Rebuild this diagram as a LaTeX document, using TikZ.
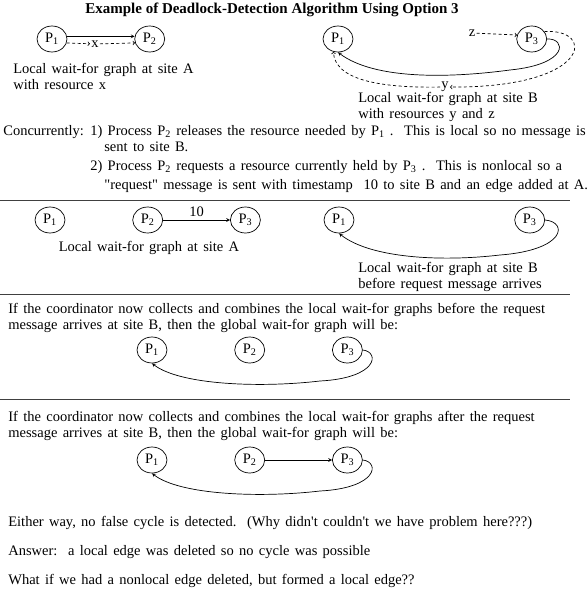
\documentclass[tikz,border=0pt]{standalone}
\usepackage{fontspec}
\setmainfont{Liberation Serif}
\usetikzlibrary{shapes.geometric,positioning}
\newcommand\widespace{\spaceskip 5.3pt plus 1pt minus 1pt\relax}

\begin{document}
\begin{tikzpicture}
    [x=1pt, y=-1pt,
    node distance=67pt,
    >=stealth,
    auto,
    line width=0.7pt,
    every node/.style={font=\fontsize{14.5}{16}\selectfont\widespace},
    proc/.style={
      ellipse,
      draw,
      minimum width=30pt,
      minimum height=26pt,
      inner sep=0pt},
    res/.style={inner sep=1pt},
    waitedge/.style={-to, dash pattern=on 3pt off 2.5pt},
    para/.style={align=left, anchor=north west, inner sep=0pt},
    rule/.style={line width=0.9pt, black!75}
    ]
    \useasboundingbox (0,0) rectangle (588,591);
    \node (title) at (272,10) [font=\fontsize{15}{18}\selectfont\bfseries] {Example of Deadlock-Detection Algorithm Using Option 3};

    % local graphs with resources
    \node (1a1) at (52,39) [proc] {P\textsubscript{1}};
    \node (1a2) [right=of 1a1] [proc] {P\textsubscript{2}};
    \node (x) at (95,44) [res] {x};
    \draw[->] (1a1.10) -- (1a2.170);
    \draw[waitedge] (1a1.-15) -- (x);
    \draw[waitedge] (x) -- (1a2.-165);
    \node (sitea) at (13,63) [para] {Local wait-for graph at site A\\with resource x};

    \node (1b1) at (338,39) [proc] {P\textsubscript{1}};
    \node (1b3) [right=163pt of 1b1] [proc] {P\textsubscript{3}};
    \node (z) at (472,33) [res] {z};
    \node (y) at (445,87) [res] {y};
    \draw[waitedge] (z) -- (1b3.165);
    \draw[->] (1b3.east) .. controls (566,38) and (570,64) .. (510,70)
      .. controls (450,78) and (375,80) .. (1b1.south);
    \draw[waitedge] (1b3.30) .. controls (596,28) and (592,88) .. (y);
    \draw[waitedge] (y) .. controls (380,88) and (335,80) .. (1b1.250);
    \node (siteb) at (358,92) [para] {Local wait-for graph at site B\\with resources y and z};

    \node (conc) at (3,125) [para] {Concurrently:};
    \node (steps) at (90,125) [para] {1) Process P\textsubscript{2} releases the resource needed by P\textsubscript{1} .\ \ This is local so no message is\\
      \hspace*{14pt}sent to site B.\\[3pt]
      2) Process P\textsubscript{2} requests a resource currently held by P\textsubscript{3} .\ \ This is nonlocal so a\\[3pt]
      \hspace*{14pt}\textquotedbl request\textquotedbl{} message is sent with timestamp\ \ 10 to site B and an edge added at A.};
    \draw[rule] (0,200) -- (570,200);

    % after the request at A
    \node (2a1) at (50,220) [proc] {P\textsubscript{1}};
    \node (2a2) [right=of 2a1] [proc] {P\textsubscript{2}};
    \node (2a3) [right=of 2a2] [proc] {P\textsubscript{3}};
    \draw[->] (2a2) -- node {10} (2a3);
    \node (2sitea) at (149,248) {Local wait-for graph at site A};

    \node (2b1) at (339,220) [proc] {P\textsubscript{1}};
    \node (2b3) [right=160pt of 2b1] [proc] {P\textsubscript{3}};
    \draw[->] (2b3.east) .. controls (568,222) and (566,250) .. (500,255)
      .. controls (440,262) and (370,258) .. (2b1.south);
    \node (2siteb) at (358,262) [para] {Local wait-for graph at site B\\before request message arrives};
    \draw[rule] (0,294) -- (570,294);

    % global graph before
    \node (3text) at (8,303) [para] {If the coordinator now collects and combines the local wait-for graphs before the request\\message arrives at site B, then the global wait-for graph will be:};
    \node (3g1) at (152,350) [proc] {P\textsubscript{1}};
    \node (3g2) [right=of 3g1] [proc] {P\textsubscript{2}};
    \node (3g3) [right=of 3g2] [proc] {P\textsubscript{3}};
    \draw[->] (3g3.east) .. controls (380,352) and (378,378) .. (320,381)
      .. controls (260,388) and (180,385) .. (3g1.south);
    \draw[rule] (0,399) -- (570,399);

    % global graph after
    \node (4text) at (8,411) [para] {If the coordinator now collects and combines the local wait-for graphs after the request\\message arrives at site B, then the global wait-for graph will be:};
    \node (4g1) at (152,460) [proc] {P\textsubscript{1}};
    \node (4g2) [right=of 4g1] [proc] {P\textsubscript{2}};
    \node (4g3) [right=of 4g2] [proc] {P\textsubscript{3}};
    \draw[->] (4g2) -- (4g3);
    \draw[->] (4g3.east) .. controls (380,462) and (378,488) .. (320,491)
      .. controls (260,498) and (180,495) .. (4g1.south);

    \node (either) at (8,516) [para] {Either way, no false cycle is detected.\ \ (Why didn\textquotesingle t couldn\textquotesingle t we have problem here???)};
    \node (answer) at (8,545) [para] {Answer:\ \ a local edge was deleted so no cycle was possible};
    \node (whatif) at (8,574) [para] {What if we had a nonlocal edge deleted, but formed a local edge??};
\end{tikzpicture}
\end{document}
